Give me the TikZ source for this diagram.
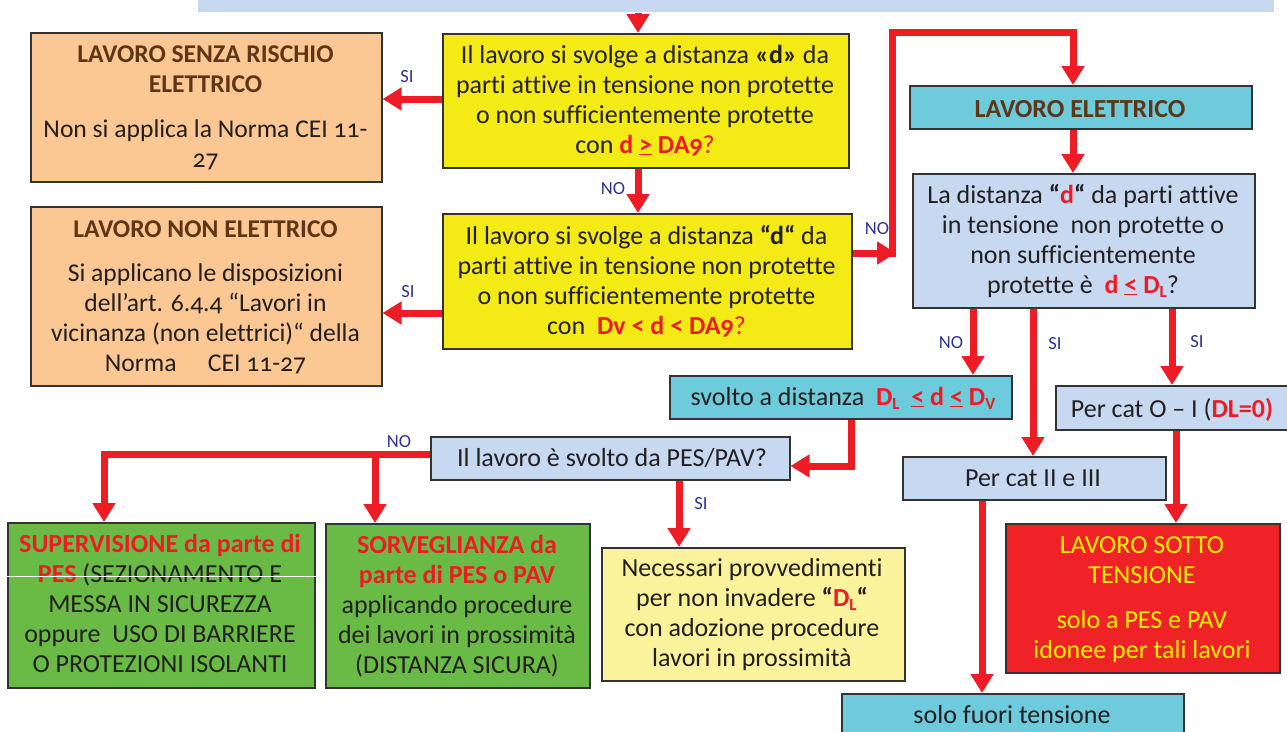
\documentclass[tikz,border=0pt]{standalone}
\usepackage{fontspec}
\setmainfont{Carlito}[Numbers=OldStyle, Ligatures=NoCommon]
\usetikzlibrary{arrows.meta}
\definecolor{orangeF}{HTML}{FBC893}
\definecolor{brownT}{HTML}{5E3516}
\definecolor{yellowF}{HTML}{F4EB16}
\definecolor{ltblue}{HTML}{C6D9F1}
\definecolor{cyanF}{HTML}{6DCBDC}
\definecolor{greenF}{HTML}{6ABB46}
\definecolor{redF}{HTML}{EE2227}
\definecolor{yellowT}{HTML}{FFF200}
\definecolor{ltyellow}{HTML}{FBF39B}
\definecolor{txt}{HTML}{231F20}
\definecolor{redT}{HTML}{ED1C24}
\definecolor{arrred}{HTML}{EE1C25}
\definecolor{labblue}{HTML}{2E3192}
\definecolor{boxline}{HTML}{333333}
\newcommand\rd[1]{\textcolor{redT}{#1}}
\newcommand\br[1]{\textcolor{brownT}{\bfseries #1}}
\newcommand\mysub[1]{\raisebox{-0.35ex}{\fontsize{17}{17}\selectfont #1}}
\newcommand\fstrut{\rule{0pt}{22pt}}
\tikzset{
  box/.style={draw=boxline, line width=1.5pt, rectangle, inner sep=0pt, anchor=north west},
  up/.style={font=\fontsize{26}{30}\selectfont, align=center, inner sep=0pt, text=txt},
  upo/.style={font=\fontsize{25.6}{30}\selectfont, align=center, inner sep=0pt, text=txt},
  lo/.style={font=\fontsize{26}{30}\selectfont, align=center, inner sep=0pt, text=txt},
  arr/.style={draw=arrred, line width=7pt, line join=miter, -{Triangle[length=19pt,width=22pt]}},
  lab/.style={font=\fontsize{18.5}{18.5}\selectfont, text=labblue, inner sep=0pt}
}
\begin{document}
\begin{tikzpicture}[x=1pt,y=-1pt]
\clip (0,0) rectangle (1287,731);
% top bar
\node[box, draw=none, fill=ltblue, minimum width=1076pt, minimum height=20pt, anchor=south west] (T) at (197,13) {};
% boxes
\node[box, fill=orangeF, minimum width=351pt, minimum height=149pt] (A) at (30,32) {};
\node[box, fill=orangeF, minimum width=351pt, minimum height=179pt] (B) at (30,206) {};
\node[box, fill=yellowF, minimum width=406pt, minimum height=134pt] (C) at (442,33) {};
\node[box, fill=yellowF, minimum width=409pt, minimum height=135pt] (D) at (442,213) {};
\node[box, fill=cyanF, minimum width=342pt, minimum height=43pt] (E) at (909,85) {};
\node[box, fill=ltblue, minimum width=342pt, minimum height=134pt] (F) at (912,173) {};
\node[box, fill=cyanF, minimum width=342pt, minimum height=43pt] (G) at (669,375) {};
\node[box, fill=ltblue, minimum width=240pt, minimum height=44pt] (I) at (1055,385) {};
\node[box, fill=ltblue, minimum width=359pt, minimum height=43pt] (J) at (430,436) {};
\node[box, fill=ltblue, minimum width=263pt, minimum height=43pt] (H) at (902,456) {};
\node[box, fill=redF, minimum width=274pt, minimum height=149pt] (K) at (1005,523) {};
\node[box, fill=cyanF, minimum width=342pt, minimum height=50pt] (L) at (841,693) {};
\node[box, fill=ltyellow, minimum width=303pt, minimum height=133pt] (M) at (601,547) {};
\node[box, fill=greenF, minimum width=307pt, minimum height=165pt] (N) at (7,522) {};
\node[box, fill=greenF, minimum width=264pt, minimum height=164pt] (O) at (325,523) {};
% texts
\node[upo, anchor=north] (At) at (205.5,40) {\fstrut\br{LAVORO SENZA RISCHIO}\\\br{ELETTRICO}\\[15pt]Non si applica la Norma CEI 11-\\27};
\node[upo, anchor=north] (Bt) at (205.5,215) {\fstrut\br{LAVORO NON ELETTRICO}\\[14pt]Si applicano le disposizioni\\dell’art. 6.4.4 “Lavori in\\vicinanza (non elettrici)“ della\\Norma\hspace{1em} CEI 11-27};
\node[up, anchor=north] (Ct) at (645,41) {\fstrut Il lavoro si svolge a distanza \textbf{«d»} da\\parti attive in tensione non protette\\o non sufficientemente protette\\con \rd{\textbf{d \underline{>} DA9}}\rd{?}};
\node[up, anchor=north] (Dt) at (646.5,222) {\fstrut Il lavoro si svolge a distanza \textbf{“d“} da\\parti attive in tensione non protette\\o non sufficientemente protette\\con\ \ \rd{\textbf{Dv < d < DA9}}\rd{?}};
\node[up, anchor=base] (Et) at (1080,117) {\br{LAVORO ELETTRICO}};
\node[up, anchor=north] (Ft) at (1083,181) {\fstrut La distanza \textbf{“\rd{d}“} da parti attive\\in tensione\ \ non protette o\\non sufficientemente\\protette è\ \ \rd{\textbf{d \underline{<} D\mysub{L}}}?};
\node[lo, anchor=base] (Gt) at (843,405) {svolto a distanza\ \ \rd{\textbf{D\mysub{L}\ \ \underline{<} d \underline{<} D\mysub{V}}}};
\node[lo, anchor=base] (It) at (1172,417) {Per cat O – I (\rd{\textbf{DL={\addfontfeatures{Numbers=Lining}0})}}};
\node[lo, anchor=base] (Jt) at (612,466) {Il lavoro è svolto da PES/PAV?};
\node[lo, anchor=base] (Ht) at (1033,486) {Per cat II e III};
\node[lo, anchor=base] (Lt) at (1012,723) {solo fuori tensione};
\node[lo, anchor=north, text=yellowT] (Kt) at (1142,531) {\fstrut LAVORO SOTTO\\TENSIONE\\[15pt]solo a PES e PAV\\idonee per tali lavori};
\node[lo, anchor=north] (Mt) at (752,554) {\fstrut Necessari provvedimenti\\per non invadere \textbf{“\rd{D\mysub{L}}“}\\con adozione procedure\\lavori in prossimità};
\node[lo, anchor=north] (Nt) at (160,530) {\fstrut\rd{\textbf{SUPERVISIONE da parte di}}\\\rd{\textbf{PES}} (SEZIONAMENTO E\\MESSA IN SICUREZZA\\oppure\ \ USO DI BARRIERE\\O PROTEZIONI ISOLANTI};
\node[lo, anchor=north] (Ot) at (457,531) {\fstrut\rd{\textbf{SORVEGLIANZA da}}\\\rd{\textbf{parte di PES o PAV}}\\applicando procedure\\dei lavori in prossimità\\(DISTANZA SICURA)};
\draw[white, line width=0.8pt] (N.west |- 0,576) -- (N.east |- 0,576);
% labels
\node[lab] (l1) at (407,77) {SI};
\node[lab] (l2) at (408,292) {SI};
\node[lab] (l3) at (613,189) {NO};
\node[lab] (l4) at (877,229) {NO};
\node[lab] (l5) at (951,343) {NO};
\node[lab] (l6) at (1055,344) {SI};
\node[lab] (l7) at (1197,342) {SI};
\node[lab] (l8) at (399,442) {NO};
\node[lab] (l9) at (701,504) {SI};
% connectors
\coordinate (t1) at (638,13);
\draw[arr] (t1) -- (t1 |- C.north);
\draw[arr] (C.west |- 0,99) -- (A.east |- 0,99);
\draw[arr] (D.west |- 0,313) -- (B.east |- 0,313);
\draw[arr] (C.south -| 638,0) -- (D.north -| 638,0);
\coordinate (k1) at (896,253);
\coordinate (k2) at (892,256.5);
\coordinate (k3) at (892,32);
\draw[arr] (D.east |- k1) -- (k1);
\draw[arr] (k2) -- (k3) -| (E.north -| 1073,0);
\draw[arr] (E.south -| 1073,0) -- (F.north -| 1073,0);
\draw[arr] (F.south -| 973,0) -- (G.north -| 973,0);
\draw[arr] (F.south -| 1033,0) -- (H.north -| 1033,0);
\draw[arr] (F.south -| 1172,0) -- (I.north -| 1172,0);
\draw[arr] (G.south -| 851,0) |- (J.east |- 0,466);
\draw[arr] (I.south -| 1176,0) -- (K.north -| 1176,0);
\draw[arr] (H.south -| 982,0) -- (L.north -| 982,0);
\draw[arr] (J.south -| 679,0) -- (M.north -| 679,0);
\draw[arr] (J.west |- 0,454) -| (N.north -| 104,0);
\coordinate (j1) at (375,451);
\draw[arr] (j1) -- (O.north -| j1);
\end{tikzpicture}
\end{document}
